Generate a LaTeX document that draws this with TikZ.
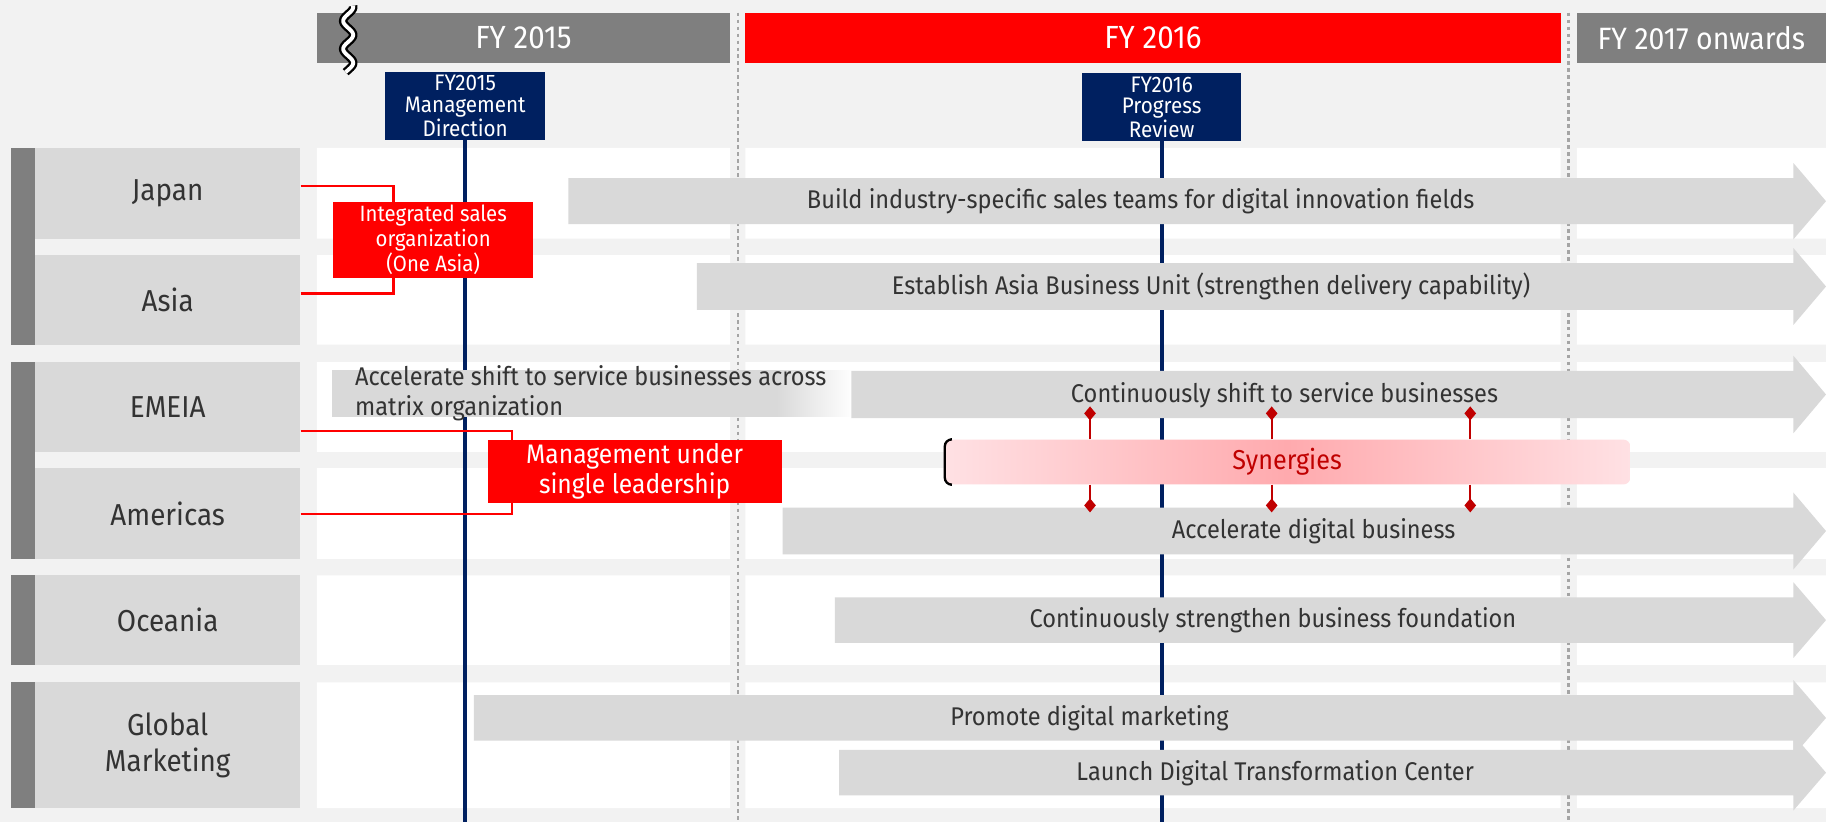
\documentclass[tikz,border=0pt]{standalone}
\usepackage{fontspec}
\setmainfont{Fira Sans}[FakeStretch=0.92]
\usetikzlibrary{arrows.meta, positioning, backgrounds, calc}

\definecolor{fond}{HTML}{F2F2F2}
\definecolor{grisclair}{HTML}{D9D9D9}
\definecolor{grisfonce}{HTML}{7F7F7F}
\definecolor{marine}{HTML}{002060}
\definecolor{rougevif}{HTML}{FF0000}
\definecolor{rougesombre}{HTML}{C00000}
\definecolor{texte}{HTML}{333333}
\definecolor{rosepale}{HTML}{FFE1E4}
\definecolor{rosefonce}{HTML}{FFAAAE}

\begin{document}
\begin{tikzpicture}[x=1pt,y=-1pt]
        \tikzset{
          boite/.style={inner sep=0pt,align=center,text=texte},
          etiquette/.style={boite,fill=grisclair,minimum width=228pt,
            font=\fontsize{26}{31}\selectfont},
          barre/.style={boite,text=white,minimum height=43pt,
            font=\fontsize{27.5}{30}\selectfont},
          jalon/.style={boite,fill=marine,text=white,minimum width=137pt,
            minimum height=58pt,font=\fontsize{19.3}{18.7}\selectfont},
          boite rouge/.style={boite,fill=rougevif,text=white},
          fleche grise/.style={fill=grisclair},
          texte fleche/.style={boite,font=\fontsize{22}{26}\selectfont},
          pointilles/.style={draw=grisfonce!70,line width=2pt,dash pattern=on 3pt off 3pt},
          ligne jalon/.style={draw=marine,line width=3.5pt},
          lien rouge/.style={draw=rougevif,line width=2pt},
          lien synergie/.style={draw=rougesombre,line width=1.5pt,
            -{Diamond[length=12pt,width=10pt]}},
          }
        \useasboundingbox (0,0) rectangle (1568,706);
        \coordinate (bas) at (0,706);

        % annees
        \node[barre,fill=grisfonce,minimum width=355pt] (fy15) at (449.5,32.5) {FY 2015};
        \node[barre,fill=rougevif,minimum width=700pt] (fy16) at (990,32.5) {FY 2016};
        \node[barre,fill=grisfonce,minimum width=214pt,font=\fontsize{26.5}{30}\selectfont] (fy17) at (1461,32.5) {FY 2017 onwards};
        \draw[line width=2pt,double=white,double distance=3.3pt]
          plot[domain=5:62,samples=70,smooth] ({299+4.3*sin(15*\x)},\x);

        \node[jalon] (m15) at (399.5,91) {FY2015\\Management\\Direction};
        \node[jalon] (m16) at (997.5,92) {FY2016\\Progress\\Review};

        % regions
        \node[etiquette,minimum height=78pt] (japon) at (144,166) {Japan};
        \node[etiquette,minimum height=77pt] (asie) at (144,257.5) {Asia};
        \node[etiquette,minimum height=77pt] (emeia) at (144,349.5) {EMEIA};
        \node[etiquette,minimum height=78pt] (ameriques) at (144,441) {Americas};
        \node[etiquette,minimum height=77pt] (oceanie) at (144,532.5) {Oceania};
        \node[etiquette,minimum height=108pt] (marketing) at (144,640) {Global\\Marketing};
        \fill[grisfonce] (japon.north west) ++(-20,0) rectangle (asie.south west);
        \fill[grisfonce] (emeia.north west) ++(-20,0) rectangle (ameriques.south west);
        \fill[grisfonce] (oceanie.north west) ++(-20,0) rectangle (oceanie.south west);
        \fill[grisfonce] (marketing.north west) ++(-20,0) rectangle (marketing.south west);

        % fleches
        \fill[fleche grise] (488,153) -| (1540,140) -- (1568,172.75) -- (1540,205.5) |- (488,192.5) -- cycle;
        \node[texte fleche] (tjapon) at (979.5,173) {Build industry-specific sales teams for digital innovation fields};
        \fill[fleche grise] (598.5,226) -| (1540,213) -- (1568,246) -- (1540,279) |- (598.5,266) -- cycle;
        \node[texte fleche] (tasie) at (1040,246) {Establish Asia Business Unit (strengthen delivery capability)};
        \fill[grisclair] (285,318) rectangle (667,358);
        \shade[left color=grisclair,right color=white!96!grisclair] (667,318) rectangle (730,358);
        \node[texte fleche,align=left,anchor=west,font=\fontsize{22}{25.6}\selectfont] (temeia)
          at (304.7,337.6) {Accelerate shift to service businesses across\\matrix organization};
        \fill[fleche grise] (731,318.5) -| (1540,305.5) -- (1568,338.75) -- (1540,372) |- (731,359) -- cycle;
        \node[texte fleche] (tservice) at (1103,339) {Continuously shift to service businesses};
        \fill[fleche grise] (672,436) -| (1540,423) -- (1568,456) -- (1540,489) |- (672,476) -- cycle;
        \node[texte fleche] (tdigital) at (1128,456) {Accelerate digital business};
        \fill[fleche grise] (717,513) -| (1540,500) -- (1568,532.5) -- (1540,565) |- (717,552) -- cycle;
        \node[texte fleche] (toceanie) at (1093,533) {Continuously strengthen business foundation};
        \fill[fleche grise] (407,597) -| (1540,584) -- (1568,616.5) -- (1540,649) |- (407,636) -- cycle;
        \node[texte fleche] (tpromo) at (935.5,617) {Promote digital marketing};
        \fill[fleche grise] (720.5,644) -| (1540,631) -- (1568,663.5) -- (1540,696) |- (720.5,683) -- cycle;
        \node[texte fleche] (tcentre) at (1095,664) {Launch Digital Transformation Center};

        % liens rouges
        \node[boite rouge,minimum width=172pt,minimum height=65pt,
          font=\fontsize{19}{21.8}\selectfont] (integ) at (372,206) {Integrated sales\\organization\\(One Asia)};
        \node[boite rouge,minimum width=252.5pt,minimum height=54pt,
          font=\fontsize{23}{26}\selectfont] (mgmt) at (545,405) {Management under\\single leadership};
        \draw[lien rouge] ([yshift=6pt]japon.east) -| ([xshift=52pt]integ.north west);
        \draw[lien rouge] ([yshift=5.5pt]asie.east) -| ([xshift=52pt]integ.south west);
        \draw[lien rouge] ([yshift=-20.5pt]emeia.east) -| ([xshift=21pt]mgmt.north west);
        \draw[lien rouge] ([yshift=-0.5pt]ameriques.east) -| ([xshift=21pt]mgmt.south west);

        % synergies
        \node[boite,rounded corners=6pt,left color=rosepale,right color=rosepale,middle color=rosefonce,
          minimum width=589.5pt,minimum height=38.5pt,text=rougesombre,
          font=\fontsize{23.5}{30}\selectfont] (syn) at (1105.25,396.75) {Synergies};
        \draw[line width=2pt,rounded corners=6pt] ([xshift=6pt]syn.north west) -- ([xshift=1pt]syn.north west)
          -- ([xshift=1pt]syn.south west) -- ([xshift=6pt]syn.south west);
        \coordinate (s1) at (936,349);
        \coordinate (s2) at (1092,349);
        \coordinate (s3) at (1262.5,349);
        \coordinate (i1) at (936,440);
        \coordinate (i2) at (1092,440);
        \coordinate (i3) at (1262.5,440);
        \draw[lien synergie] (syn.north -| s1) -- (s1);
        \draw[lien synergie] (syn.north -| s2) -- (s2);
        \draw[lien synergie] (syn.north -| s3) -- (s3);
        \draw[lien synergie] (syn.south -| i1) -- (i1);
        \draw[lien synergie] (syn.south -| i2) -- (i2);
        \draw[lien synergie] (syn.south -| i3) -- (i3);

        \begin{scope}[on background layer]
          \fill[fond] (0,0) rectangle (1568,706);
          \foreach \h/\b in {127/205,219/296,311/388,402/480,494/571,586/694}
            \fill[white] (272,\h) rectangle (627,\b) (640,\h) rectangle (1340,\b) (1354,\h) rectangle (1568,\b);
          \draw[pointilles] ($(fy15.north east)!0.5!(fy16.north west)$) coordinate (c1) -- (c1 |- bas);
          \draw[pointilles] ($(fy16.north east)!0.5!(fy17.north west)$) coordinate (c2) -- (c2 |- bas);
          \draw[ligne jalon] (m15.south) -- (m15.south |- bas);
          \draw[ligne jalon] (m16.south) -- (m16.south |- bas);
        \end{scope}
      \end{tikzpicture}
\end{document}
